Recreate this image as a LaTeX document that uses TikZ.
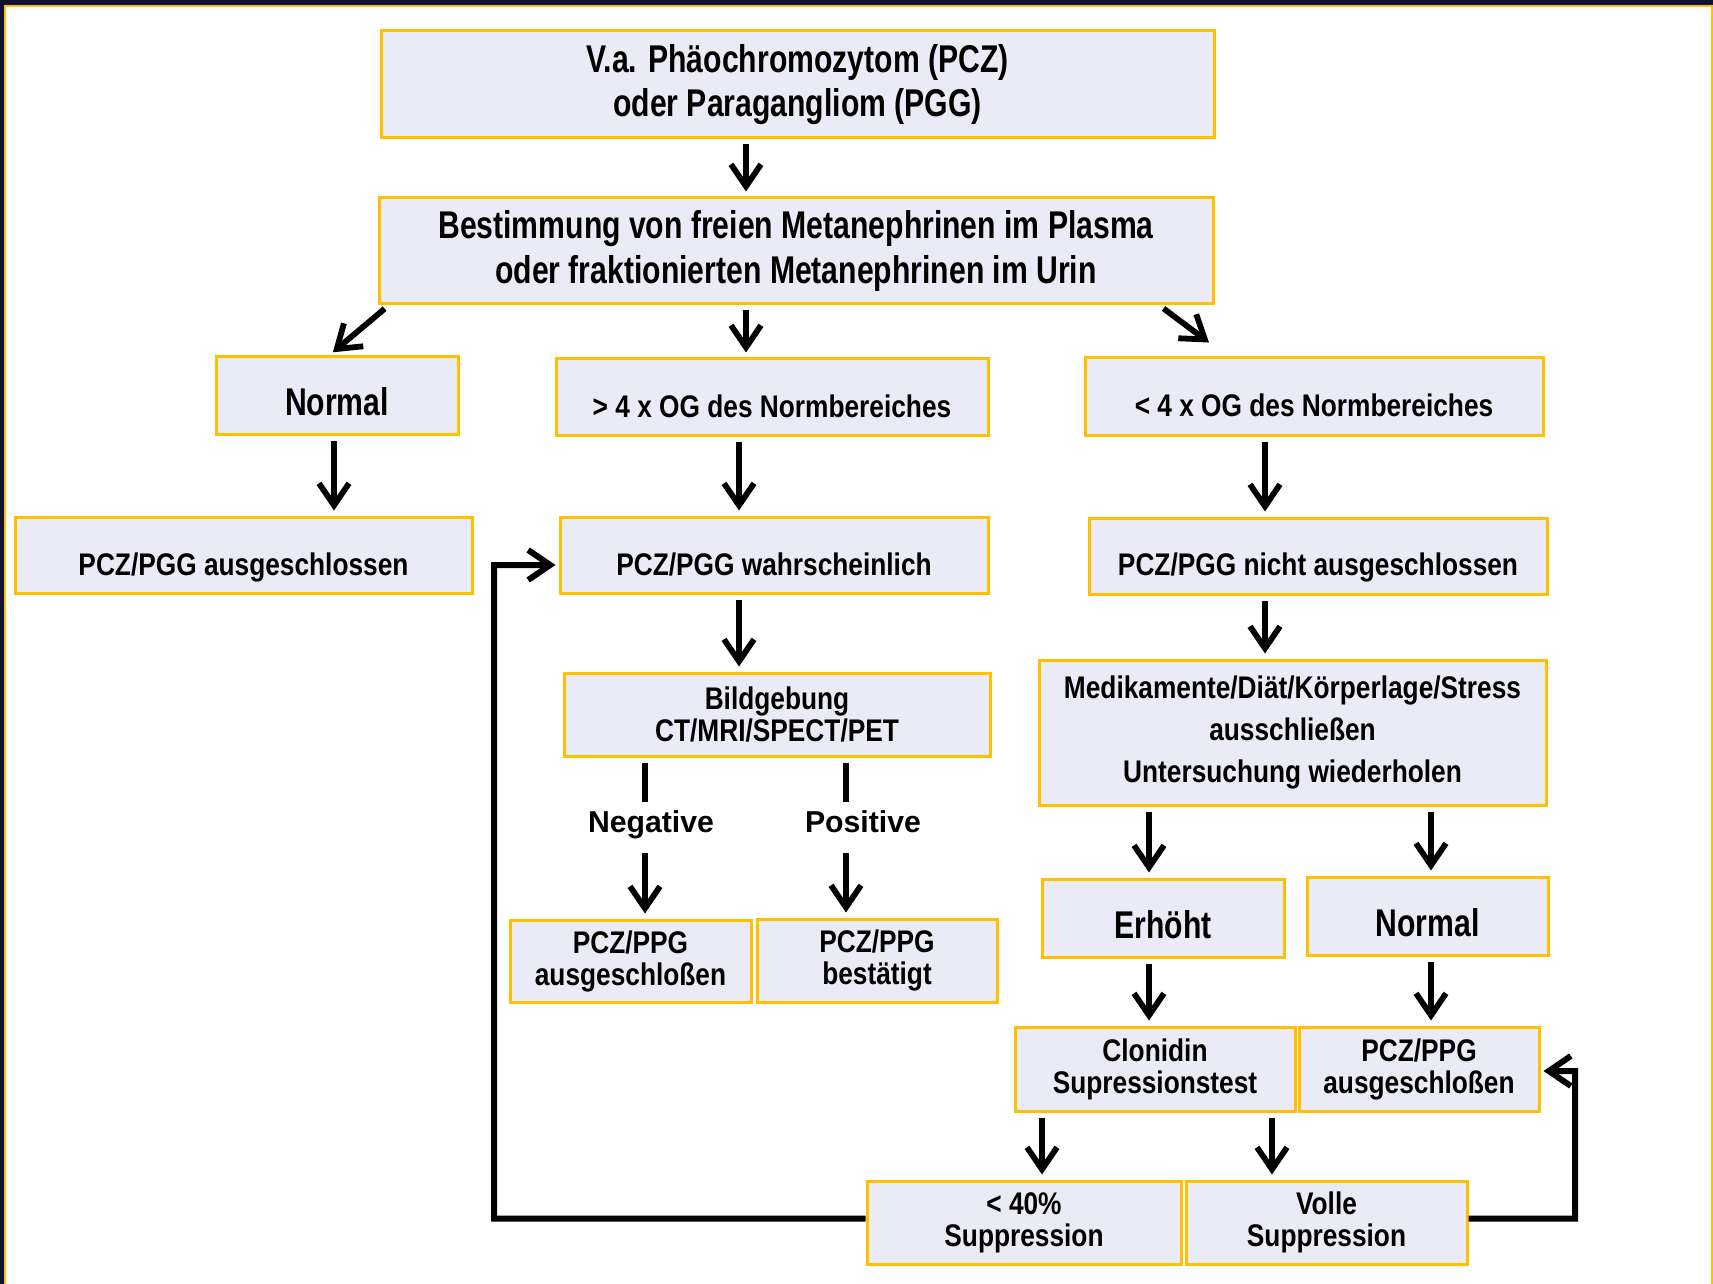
\documentclass[tikz,border=0pt]{standalone}
\usepackage{fontspec}
\usetikzlibrary{arrows.meta}
\newfontfamily\schmal{Liberation Sans}[FakeStretch=0.78]
\newfontfamily\schmaler{Liberation Sans}[FakeStretch=0.84]
\newfontfamily\arial{Liberation Sans}
\definecolor{kastenrand}{HTML}{FFC000}
\definecolor{kastenfuell}{HTML}{EBEBF7}
\definecolor{randdunkel}{HTML}{111133}
\tikzset{
  kasten/.style={draw=kastenrand, fill=kastenfuell, line width=0.3mm, inner sep=0pt, align=center, text=black},
  gross/.style={font=\schmal\bfseries\fontsize{11}{12.6}\selectfont},
  klein/.style={font=\schmaler\bfseries\fontsize{8.9}{9.1}\selectfont},
  mittel/.style={font=\schmaler\bfseries\fontsize{8.9}{11.95}\selectfont},
  tief/.style={text height=4mm, text depth=0pt},
  marke/.style={font=\arial\bfseries\fontsize{8.6}{10}\selectfont, inner sep=1mm, text height=2mm, text depth=0.5mm},
  pfeil/.style={line width=0.58mm, -{Straight Barb[length=2.2mm,width=3mm]}, shorten <=0.5mm, shorten >=0.5mm},
  strich/.style={line width=0.58mm, shorten <=0.5mm},
  schleife/.style={line width=0.6mm, -{Straight Barb[length=2.2mm,width=3mm]}, shorten >=0.3mm}
}
\begin{document}
\begin{tikzpicture}[x=0.1mm, y=-0.1mm]
  \useasboundingbox (0,0) rectangle (1713,1284);
  \fill[white] (0,0) rectangle (1713,1284);

  % --- Rand ---
  \fill[randdunkel] (0,0) rectangle (1713,5);
  \fill[randdunkel] (0,0) rectangle (4,1284);
  \draw[kastenrand, line width=0.2mm] (5,1284) -- (5,6) -- (1712,6) -- (1712,1284);

  % --- Kaesten oben ---
  \node[kasten, gross, minimum width=83.3mm, minimum height=10.7mm] (titel) at (797.5,84.5)
    {V.a. Phäochromozytom (PCZ)\\oder Paragangliom (PGG)};
  \node[kasten, gross, minimum width=83.4mm, minimum height=10.6mm] (bestimmung) at (796,251)
    {Bestimmung von freien Metanephrinen im Plasma\\oder fraktionierten Metanephrinen im Urin};

  % --- zweite Reihe ---
  \node[kasten, gross, tief, minimum width=24.2mm, minimum height=7.8mm] (normalL) at (337,396) {Normal};
  \node[kasten, klein, tief, minimum width=43.2mm, minimum height=7.7mm] (hoch) at (772,397.5) {> 4 x OG des Normbereiches};
  \node[kasten, klein, tief, minimum width=45.8mm, minimum height=7.8mm] (niedrig) at (1314,397) {< 4 x OG des Normbereiches};

  % --- dritte Reihe ---
  \node[kasten, klein, tief, minimum width=45.7mm, minimum height=7.6mm] (ausgeschl) at (243.5,555) {PCZ/PGG ausgeschlossen};
  \node[kasten, klein, tief, minimum width=42.8mm, minimum height=7.6mm] (wahrsch) at (774,555) {PCZ/PGG wahrscheinlich};
  \node[kasten, klein, tief, minimum width=45.8mm, minimum height=7.6mm] (nicht) at (1318,556) {PCZ/PGG nicht ausgeschlossen};

  % --- Bildgebung ---
  \node[kasten, klein, minimum width=42.6mm, minimum height=8.3mm] (bild) at (777,714.5) {Bildgebung\\CT/MRI/SPECT/PET};
  \node[marke] (negmarke) at (651,825) {Negative};
  \node[marke] (posmarke) at (863,825) {Positive};
  \node[kasten, klein, minimum width=24.1mm, minimum height=8.2mm] (neg) at (630.5,961) {PCZ/PPG\\ausgeschloßen};
  \node[kasten, klein, minimum width=24.0mm, minimum height=8.3mm] (pos) at (877,960.5) {PCZ/PPG\\bestätigt};

  % --- rechter Zweig ---
  \node[kasten, mittel, minimum width=50.7mm, minimum height=14.5mm] (medik) at (1292.5,732.5)
    {Medikamente/Diät/Körperlage/Stress\\ausschließen\\Untersuchung wiederholen};
  \node[kasten, gross, tief, minimum width=24.2mm, minimum height=7.8mm] (erhoeht) at (1163,918) {Erhöht};
  \node[kasten, gross, tief, minimum width=24.1mm, minimum height=7.8mm] (normalR) at (1427.5,916) {Normal};
  \node[kasten, klein, minimum width=28.0mm, minimum height=8.4mm] (clonidin) at (1155,1069) {Clonidin\\Supressionstest};
  \node[kasten, klein, minimum width=24.0mm, minimum height=8.4mm] (ausR) at (1419,1069) {PCZ/PPG\\ausgeschloßen};
  \node[kasten, klein, minimum width=31.4mm, minimum height=8.3mm] (unter40) at (1024,1222.5) {< 40\%\\Suppression};
  \node[kasten, klein, minimum width=28.1mm, minimum height=8.3mm] (volle) at (1326.5,1222.5) {Volle\\Suppression};

  % --- Pfeile ---
  \draw[pfeil] (746,0 |- titel.south) -- (746,0 |- bestimmung.north);
  \draw[pfeil] (746,0 |- bestimmung.south) -- (746,0 |- hoch.north);
  \draw[pfeil] ([xshift=1.1mm]bestimmung.south west) -- ([xshift=-0.8mm]normalL.north);
  \draw[pfeil] ([xshift=-5.5mm]bestimmung.south east) -- ([xshift=-10.1mm, yshift=1.1mm]niedrig.north);
  \draw[pfeil] (334,0 |- normalL.south) -- (334,0 |- ausgeschl.north);
  \draw[pfeil] (739,0 |- hoch.south) -- (739,0 |- wahrsch.north);
  \draw[pfeil] (1265,0 |- niedrig.south) -- (1265,0 |- nicht.north);
  \draw[pfeil] (739,0 |- wahrsch.south) -- (739,0 |- bild.north);
  \draw[pfeil] (1265,0 |- nicht.south) -- (1265,0 |- medik.north);

  % Negative / Positive
  \draw[strich] (645,0 |- bild.south) -- (645,0 |- negmarke.north);
  \draw[pfeil] (645,0 |- negmarke.south) -- (645,0 |- neg.north);
  \draw[strich] (846,0 |- bild.south) -- (846,0 |- posmarke.north);
  \draw[pfeil] (846,0 |- posmarke.south) -- (846,0 |- pos.north);

  \draw[pfeil] (1149,0 |- medik.south) -- (1149,0 |- erhoeht.north);
  \draw[pfeil] (1431,0 |- medik.south) -- (1431,0 |- normalR.north);
  \draw[pfeil] (1149,0 |- erhoeht.south) -- (1149,0 |- clonidin.north);
  \draw[pfeil] (1431,0 |- normalR.south) -- (1431,0 |- ausR.north);
  \draw[pfeil] (1042,0 |- clonidin.south) -- (1042,0 |- unter40.north);
  \draw[pfeil] (1272,0 |- clonidin.south) -- (1272,0 |- volle.north);

  % --- Rueckfuehrungen ---
  \coordinate (eckeL) at (494,565);
  \coordinate (eckeR) at (1575,1071);
  \draw[schleife] ([yshift=0.4mm]unter40.west) -| (eckeL) -- ([yshift=-1mm]wahrsch.west);
  \draw[schleife] ([yshift=0.4mm]volle.east) -| (eckeR) -- ([yshift=-0.2mm]ausR.east);

\end{tikzpicture}
\end{document}
